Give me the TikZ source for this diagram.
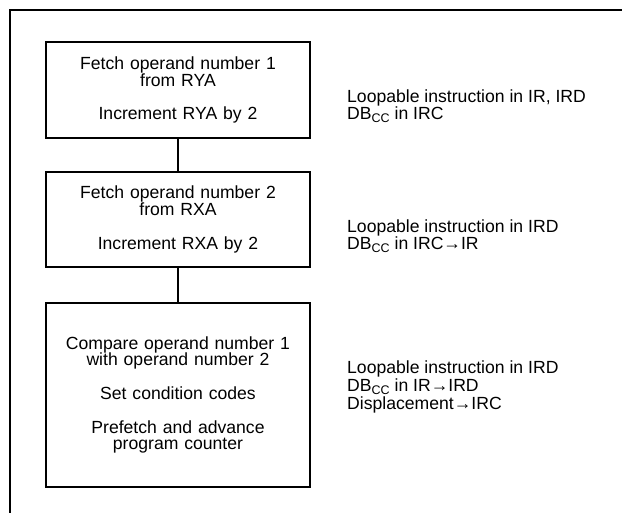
\documentclass[tikz,border=0pt]{standalone}
\usepackage{fontspec}
\setmainfont{Liberation Sans}
\newcommand{\subcc}{\raisebox{-2.5pt}{\fontsize{12.5}{12.5}\selectfont CC}}
\begin{document}
\begin{tikzpicture}[x=1pt, y=-1pt,
	stepbox/.style={draw, line width=1.8pt, minimum width=264pt, text width=250pt, align=center, inner sep=0pt, font=\fontsize{17.6}{16.8}\selectfont},
	note/.style={anchor=west, align=left, inner sep=0pt, font=\fontsize{17.6}{17.6}\selectfont},
	link/.style={line width=1.5pt}]
	\useasboundingbox (0,0) rectangle (622,513);
	\draw[line width=1.5pt] (622,10) -- (10,10) -- (10,513);
	\node[stepbox, minimum height=96pt] (fetchA) at (178,90) {Fetch operand number 1\\from RYA\\[\baselineskip]Increment RYA by 2};
	\node[stepbox, minimum height=95pt] (fetchB) at (178,219.5) {Fetch operand number 2\\from RXA\\[\baselineskip]Increment RXA by 2};
	\node[stepbox, minimum height=184pt] (cmp) at (178,395) {Compare operand number 1\\with operand number 2\\[\baselineskip]Set condition codes\\[\baselineskip]Prefetch and advance\\program counter};
	\draw[link] (fetchA.south) -- (fetchB.north);
	\draw[link] (fetchB.south) -- (cmp.north);
	\node[note] (noteA) at (347,106) {Loopable instruction in IR, IRD\\DB\subcc{} in IRC};
	\node[note] (noteB) at (347,236) {Loopable instruction in IRD\\DB\subcc{} in IRC→IR};
	\node[note] (noteC) at (347,387) {Loopable instruction in IRD\\DB\subcc{} in IR→IRD\\Displacement→IRC};
\end{tikzpicture}
\end{document}
